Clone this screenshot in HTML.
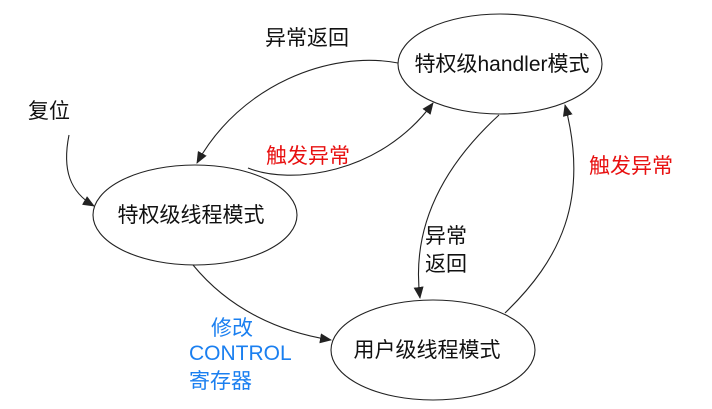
<!DOCTYPE html>
<html><head><meta charset="utf-8"><style>
html,body{margin:0;padding:0;background:#fff;}
svg{display:block;}
text{font-family:"Liberation Sans","Noto Sans CJK SC",sans-serif;font-size:20px;}
</style></head><body>
<svg width="712" height="409" viewBox="0 0 712 409" xmlns="http://www.w3.org/2000/svg">
<defs>
<marker id="a" markerWidth="12" markerHeight="10" refX="11" refY="5" orient="auto" markerUnits="userSpaceOnUse">
<path d="M0,0 L12,5 L0,10 Z" fill="#222"/>
</marker>
</defs>
<g fill="none" stroke="#222" stroke-width="1.1">
<ellipse cx="500" cy="64" rx="102" ry="50"/>
<ellipse cx="195" cy="215" rx="102" ry="50"/>
<ellipse cx="433" cy="350" rx="102" ry="50"/>
<path d="M398,63 C330,50 240,85 197,163" marker-end="url(#a)"/>
<path d="M248,168 C290,185 380,175 433,103" marker-end="url(#a)"/>
<path d="M499,115 C450,160 410,220 420,298" marker-end="url(#a)"/>
<path d="M505,313 C560,260 590,200 565,105" marker-end="url(#a)"/>
<path d="M69,135 C62,170 70,192 94,206" marker-end="url(#a)"/>
<path d="M193,265 C230,310 280,332 331,340" marker-end="url(#a)"/>
</g>
<g fill="#111">
<text x="502" y="71" text-anchor="middle" style="font-size:21px">特权级handler模式</text>
<text x="191" y="222" text-anchor="middle" style="font-size:21px">特权级线程模式</text>
<text x="427" y="357" text-anchor="middle" style="font-size:21px">用户级线程模式</text>
<text x="265" y="45" style="font-size:21px">异常返回</text>
<text x="28" y="118" style="font-size:21px">复位</text>
<text x="425" y="243" style="font-size:21px">异常</text>
<text x="425" y="271" style="font-size:21px">返回</text>
</g>
<g fill="#e81010" style="font-size:21px">
<text x="266" y="163" style="font-size:21px">触发异常</text>
<text x="589" y="173" style="font-size:21px">触发异常</text>
</g>
<g fill="#1a7ff0">
<text x="211" y="335" style="font-size:21px">修改</text>
<text x="189" y="360" style="font-size:21px">CONTROL</text>
<text x="189" y="388" style="font-size:21px">寄存器</text>
</g>
</svg>
</body></html>
